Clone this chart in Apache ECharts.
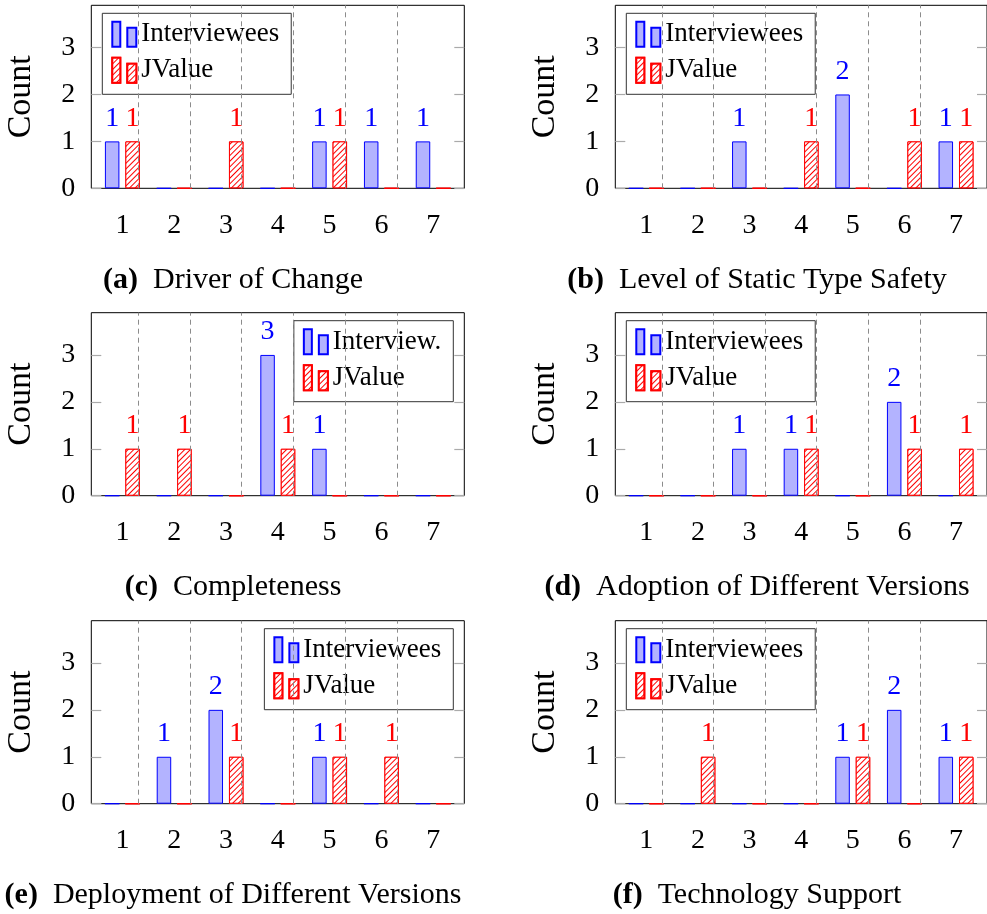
<!DOCTYPE html>
<html><head><meta charset="utf-8">
<script src="https://cdn.jsdelivr.net/npm/echarts@6/dist/echarts.min.js"></script>
<style>html,body{margin:0;padding:0;background:#fff}#c{width:987px;height:914px}</style>
</head><body><div id="c"></div>
<script>
// ---- data ----
const categories = [1, 2, 3, 4, 5, 6, 7];
const yTicks = [0, 1, 2, 3];
const seriesNames = ['Interviewees', 'JValue'];
const captionLetters = ['(a)', '(b)', '(c)', '(d)', '(e)', '(f)'];
const captionTitles = ['Driver of Change', 'Level of Static Type Safety', 'Completeness',
  'Adoption of Different Versions', 'Deployment of Different Versions', 'Technology Support'];
const intervieweesA = [1, 0, 0, 0, 1, 1, 1];
const jvalueA       = [1, 0, 1, 0, 1, 0, 0];
const intervieweesB = [0, 0, 1, 0, 2, 0, 1];
const jvalueB       = [0, 0, 0, 1, 0, 1, 1];
const intervieweesC = [0, 0, 0, 3, 1, 0, 0];
const jvalueC       = [1, 1, 0, 1, 0, 0, 0];
const intervieweesD = [0, 0, 1, 1, 0, 2, 0];
const jvalueD       = [0, 0, 0, 1, 0, 1, 1];
const intervieweesE = [0, 1, 2, 0, 1, 0, 0];
const jvalueE       = [0, 0, 1, 0, 1, 1, 0];
const intervieweesF = [0, 0, 0, 0, 1, 2, 1];
const jvalueF       = [0, 1, 0, 0, 1, 0, 1];
const legendLabelC = 'Interview.';

const panelData = [
  [intervieweesA, jvalueA], [intervieweesB, jvalueB], [intervieweesC, jvalueC],
  [intervieweesD, jvalueD], [intervieweesE, jvalueE], [intervieweesF, jvalueF]
];

// ---- layout / style ----
const FONT = 'Liberation Serif';
const colLeft = [91.3, 615.3];
const rowTop = [5.3, 312.7, 620.7];
const plotW = 373, plotH = 183;
const captionX = [233, 757];
const captionY = [265, 572.4, 879.8];
const legendRight = [false, false, true, false, true, false];
const BLUE = '#0000ff', BLUEFILL = '#b3b3ff', RED = '#ff0000';

const grid = [], xAxis = [], yAxis = [], series = [], legend = [], title = [];

panelData.forEach((pd, i) => {
  const col = i % 2, row = Math.floor(i / 2);
  const left = colLeft[col], top = rowTop[row];
  grid.push({ left: left, top: top, width: plotW, height: plotH, show: true,
    borderColor: '#000', borderWidth: 1, backgroundColor: 'transparent' });
  xAxis.push({ type: 'value', gridIndex: i, min: 0.4, max: 7.6,
    splitLine: { show: false }, axisLine: { show: false }, axisTick: { show: false },
    axisLabel: { customValues: categories, margin: 23, fontSize: 28, color: '#000', fontFamily: FONT } });
  yAxis.push({ type: 'value', gridIndex: i, min: 0, max: 3.9, interval: 1,
    splitLine: { show: false }, axisLine: { show: false },
    axisTick: { show: true, inside: true, length: 10, lineStyle: { color: '#aaa', width: 1.2 }, customValues: yTicks },
    axisLabel: { customValues: yTicks, margin: 16, fontSize: 28, color: '#000', fontFamily: FONT },
    name: 'Count', nameLocation: 'middle', nameRotate: 90, nameGap: 53,
    nameTextStyle: { fontSize: 34, color: '#000', fontFamily: FONT } });
  yAxis.push({ type: 'value', gridIndex: i, min: 0, max: 3.9, interval: 1, position: 'right',
    splitLine: { show: false }, axisLine: { show: false }, axisLabel: { show: false },
    axisTick: { show: true, inside: true, length: 10, lineStyle: { color: '#aaa', width: 1.2 }, customValues: yTicks } });

  const labelFmt = q => (q.value[1] > 0 ? String(q.value[1]) : '');
  series.push({ type: 'bar', name: seriesNames[0], xAxisIndex: i, yAxisIndex: 2 * i,
    data: categories.map((c, k) => [c, pd[0][k]]),
    barWidth: 14.5, barGap: '41%',
    itemStyle: { color: BLUEFILL, borderColor: BLUE, borderWidth: 1 },
    label: { show: true, position: 'top', distance: 9, color: BLUE, fontSize: 28, fontFamily: FONT, formatter: labelFmt },
    markLine: { silent: true, symbol: ['none', 'none'], label: { show: false },
      lineStyle: { type: [5, 4], color: '#8c8c8c', width: 1 },
      data: categories.slice(1).map(c => ({ xAxis: c - 0.5 })) } });
  series.push({ type: 'bar', name: seriesNames[1], xAxisIndex: i, yAxisIndex: 2 * i,
    data: categories.map((c, k) => [c, pd[1][k]]),
    barWidth: 14.5, barGap: '41%',
    itemStyle: { color: '#ffffff', borderColor: RED, borderWidth: 1,
      decal: { symbol: 'rect', symbolSize: 1, color: RED, backgroundColor: '#ffffff',
        dashArrayX: [1, 0], dashArrayY: [1, 2.8], rotation: -Math.PI / 4 } },
    label: { show: true, position: 'top', distance: 9, color: RED, fontSize: 28, fontFamily: FONT, formatter: labelFmt } });

  const lg = { orient: 'vertical', top: top + 8, data: seriesNames.slice(),
    itemWidth: 24, itemHeight: 25, itemGap: 6, padding: [6, 12, 9, 9],
    icon: 'path://M0,0 L8,0 L8,25 L0,25 Z M15,6 L24,6 L24,25 L15,25 Z',
    backgroundColor: '#fff', borderColor: '#333', borderWidth: 1, borderRadius: 0,
    selectedMode: false,
    textStyle: { fontSize: 27, lineHeight: 30, color: '#000', fontFamily: FONT } };
  if (legendRight[i]) lg.right = 987 - (left + plotW - 11); else lg.left = left + 11;
  if (i === 2) lg.formatter = n => (n === seriesNames[0] ? legendLabelC : n);
  legend.push(lg);

  title.push({ text: '{b|' + captionLetters[i] + '}  ' + captionTitles[i],
    left: captionX[col], top: captionY[row], textAlign: 'center', padding: 0,
    textStyle: { fontSize: 30, fontWeight: 'normal', color: '#000', fontFamily: FONT,
      rich: { b: { fontSize: 30, fontWeight: 'bold', color: '#000', fontFamily: FONT } } } });
});

const chart = echarts.init(document.getElementById('c'), null, { renderer: 'canvas' });
chart.setOption({ animation: false, backgroundColor: '#fff', title, grid, xAxis, yAxis, series, legend });
</script>
</body></html>
